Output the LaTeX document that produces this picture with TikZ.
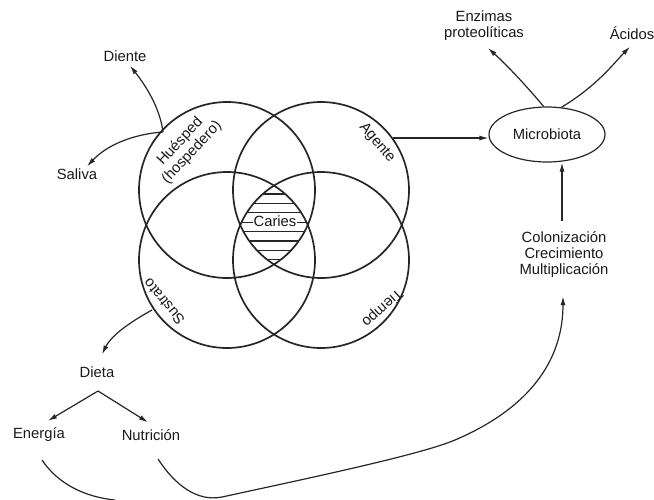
\documentclass[tikz,border=0pt]{standalone}
\usepackage{fontspec}
\setmainfont{Liberation Sans}
\usetikzlibrary{arrows.meta,shapes.geometric,calc}
\begin{document}
\begin{tikzpicture}[x=1pt,y=-1pt,
  circ/.style={line width=1.7pt, draw=black!85},
  conn/.style={line width=1.2pt, draw=black!85},
  arr/.style={conn, -{Latex[length=9pt,width=5pt]}},
  lbl/.style={font=\fontsize{14.8}{16}\selectfont, text=black!90, inner sep=1pt, align=center},
  hatch/.style={line width=1.2pt, draw=black!85}]
\useasboundingbox (0,0) rectangle (654,499);

% centres of the four circles
\coordinate (cH) at (227,190);
\coordinate (cA) at (321,190);
\coordinate (cS) at (227,260);
\coordinate (cT) at (321,260);

% hatching of the common region
\begin{scope}
  \clip (cH) circle[radius=88pt];
  \clip (cA) circle[radius=88pt];
  \clip (cS) circle[radius=88pt];
  \clip (cT) circle[radius=88pt];
  \foreach \yy in {194,203.4,212.8,222.2,231.6,241,250.4,259.8}
    \draw[hatch] (228,\yy) -- (322,\yy);
\end{scope}

\draw[circ] (cH) circle[radius=88pt];
\draw[circ] (cA) circle[radius=88pt];
\draw[circ] (cS) circle[radius=88pt];
\draw[circ] (cT) circle[radius=88pt];

\node[lbl, fill=white, inner sep=0.5pt] (caries) at (275,221) {Caries};

% circle labels
\node[lbl, rotate=47] (hue) at (186,147) {Huésped\\(hospedero)};
\node[lbl, rotate=-50] (age) at (377,143) {Agente};
\node[lbl, rotate=130] (sus) at (164,302) {Sustrato};
\node[lbl, rotate=222] (tie) at (382,308) {Tiempo};

% other texts
\node[lbl] (diente) at (125,56) {Diente};
\node[lbl] (saliva) at (77,174) {Saliva};
\node[lbl] (dieta) at (97,372) {Dieta};
\node[lbl] (energia) at (39,435) {Energía};
\node[lbl] (nutri) at (151,435) {Nutrición};
\node[lbl, draw=black!85, line width=1.2pt, ellipse, minimum width=116pt,
      minimum height=55pt, inner sep=0pt] (micro) at (547,134.5) {Microbiota};
\node[lbl] (enz) at (484,26) {Enzimas\\proteolíticas};
\node[lbl] (acidos) at (632,33) {Ácidos};
\node[lbl] (colon) at (564,255) {Colonización\\Crecimiento\\Multiplicación};

% connector points
\coordinate (pH) at (163,132);
\coordinate (pA) at (393,138);
\coordinate (pS) at (152,310);
\coordinate (apex) at (98,391);
\coordinate (eS) at (42,460);
\coordinate (nS) at (158,459);

% connectors
\draw[arr] (pH) .. controls (160,108) and (146,86) .. ($(diente.south)+(5,3)$);
\draw[arr] (pH) .. controls (135,134) and (108,144) .. ($(saliva.north)+(10,-1)$);
\draw[arr] (pA) -- (pA -| micro.west);
\draw[arr] (micro.97) .. controls (530,90) and (508,66) .. ($(enz.south)+(4,6)$);
\draw[arr] (micro.62) .. controls (597,86) and (615,62) .. ($(acidos.south)+(-2,6)$);
\draw[arr] ($(colon.north)+(-2,-10)$) -- ($(colon.north |- micro.south)+(-2,0)$);
\draw[arr] (pS) .. controls (134,320) and (112,334) .. ($(dieta.north)+(5,-11)$);
\draw[arr] (apex) -- ($(energia.north)+(9,-6)$);
\draw[arr] (apex) -- ($(nutri.north)+(-3,-6)$);
\draw[conn] (eS) .. controls (58,484) and (85,497) .. (115,500);
\draw[arr] (nS) .. controls (175,485) and (197,502) .. (222,497)
  .. controls (300,480) and (420,455) .. (455,440)
  .. controls (530,408) and (563,360) .. ($(colon.south)+(-1,17)$);
\end{tikzpicture}
\end{document}
